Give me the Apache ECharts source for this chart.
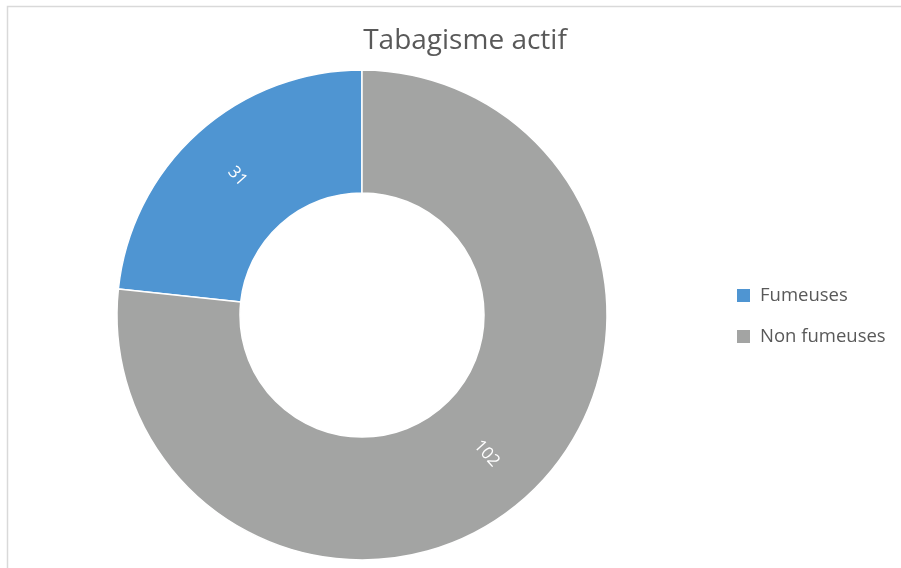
<!DOCTYPE html>
<html>
<head>
<meta charset="utf-8">
<script src="https://cdn.jsdelivr.net/npm/echarts@6/dist/echarts.min.js"></script>
<style>
  html, body { margin: 0; padding: 0; background: #fff; }
  #chart { width: 901px; height: 568px; }
</style>
</head>
<body>
<div id="chart"></div>
<script>
const categories = ['Fumeuses', 'Non fumeuses']
const values = [31, 102]
const colors = ['#4F95D2', '#A3A4A3']

const chart = echarts.init(document.getElementById('chart'))

chart.setOption({
    animation: false,
    graphic: [
        {
            type: 'rect',
            shape: { x: 7.5, y: 6.5, width: 1000, height: 1000 },
            style: { fill: 'none', stroke: '#d9d9d9', lineWidth: 1.5 },
            silent: true
        }
    ],
    title: {
        text: 'Tabagisme actif',
        left: 460,
        top: 22,
        textAlign: 'center',
        textStyle: {
            fontFamily: 'Open Sans',
            fontSize: 28,
            fontWeight: 'normal',
            color: '#595959'
        }
    },
    legend: {
        orient: 'vertical',
        left: 730,
        top: 281,
        itemWidth: 15,
        itemHeight: 15,
        itemGap: 22,
        icon: 'rect',
        data: categories,
        textStyle: {
            fontFamily: 'Open Sans',
            fontSize: 18.5,
            color: '#595959',
            padding: [0, 0, 0, 4]
        }
    },
    series: [
        {
            type: 'pie',
            center: [362, 315],
            radius: [122, 245],
            startAngle: 90,
            clockwise: false,
            avoidLabelOverlap: false,
            itemStyle: {
                borderColor: '#fff',
                borderWidth: 1.5
            },
            label: {
                show: true,
                position: 'inside',
                rotate: 'radial',
                color: '#fff',
                fontFamily: 'Open Sans',
                fontSize: 17,
                formatter: '{c}'
            },
            labelLine: { show: false },
            data: categories.map((name, i) => ({
                name: name,
                value: values[i],
                itemStyle: { color: colors[i] }
            }))
        }
    ]
})
</script>
</body>
</html>
